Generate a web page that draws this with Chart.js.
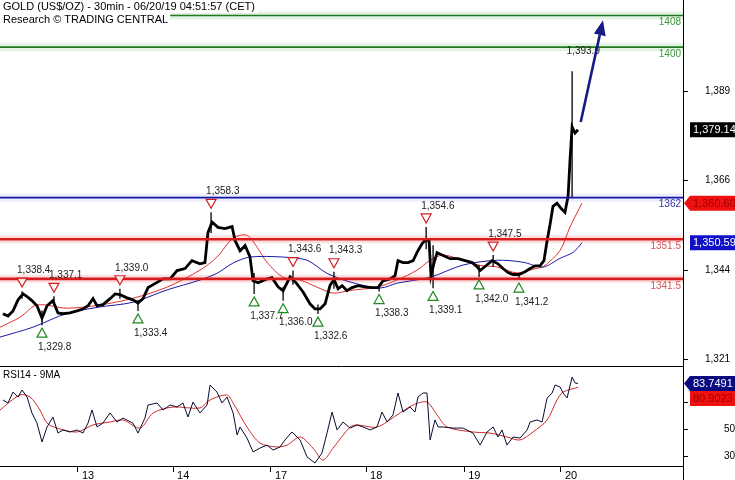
<!DOCTYPE html>
<html><head><meta charset="utf-8">
<script src="https://cdn.jsdelivr.net/npm/chart.js@4.4.1/dist/chart.umd.min.js"></script>
<style>html,body{margin:0;padding:0;background:#fff}#wrap{width:735px;height:480px;position:relative}</style>
</head><body><div id="wrap"><canvas id="c" width="735" height="480"></canvas></div>
<script>
// ---------- DATA ----------
const titleLine1 = 'GOLD (US$/OZ) - 30min - 06/20/19 04:51:57 (CET)';
const titleLine2 = 'Research \u00A9 TRADING CENTRAL';
const rsiTitle = 'RSI14 - 9MA';

const dayTicks = [37.1, 82.4, 129, 174.3, 221, 267.1];   // bar index of session start
const dayLabels = ['13', '14', '17', '18', '19', '20'];
const priceTickValues = [1321.1, 1343.7, 1366.3, 1388.9];
const priceTickLabels = ['1,321', '1,344', '1,366', '1,389'];
const rsiTickValues = [30, 50, 70];
const rsiTickLabels = ['30', '50', '70'];

const levelValues = [1408, 1400, 1362, 1351.5, 1341.5];
const levelLabels = ['1408', '1400', '1362', '1351.5', '1341.5'];
const levelKinds = ['target', 'target', 'resistance', 'pivot', 'pivot'];

const priceBars = [1.4,3.8,6.2,8.6,11,12.9,15.2,17.6,20,22.4,25.2,27.6,30,33.3,36.7,39.5,41.9,44.3,46.2,49,52.4,54.8,57.1,60.5,63.3,65.7,68.1,70.5,73.8,77.6,81,84.3,88.1,91.4,95.2,97.6,99,101,103.8,107.1,110.5,111.9,114.3,116.7,119,120.5,122.9,126.2,129.5,132.4,134.8,138.1,141,144.3,147.6,150,152.4,154.8,157.1,159,161,162.9,165.2,167.6,170.5,173.8,177.1,180,182.4,185.7,188.1,189.5,191.9,194.3,196.7,199,201,202.4,204.3,205.2,206.7,208.1,211,214.3,218.1,221.4,224.8,227.1,228.6,231.4,234.3,237.1,239.5,241.9,244.3,247.1,250,252.4,254.8,257.1,259,260.5,261.9,263.3,265.2,267.1,269,270.5,271.4,272.4,273.8,275.2];
const priceClose = [1332.7,1332.1,1333.4,1336.2,1337.7,1337.0,1336.0,1334.7,1331.6,1334.7,1336.0,1332.9,1332.7,1332.9,1333.4,1333.9,1334.7,1336.5,1334.7,1335.0,1336.5,1337.7,1337.5,1336.7,1336.2,1335.4,1336.5,1339.3,1340.3,1341.5,1341.5,1343.6,1344.1,1346.1,1345.3,1345.6,1353.2,1355.8,1354.5,1354.2,1354.7,1351.2,1348.6,1349.9,1347.1,1341.0,1340.5,1341.3,1341.8,1339.5,1338.5,1342.0,1340.5,1338.2,1335.2,1333.9,1333.9,1335.2,1339.8,1341.3,1339.0,1339.8,1338.5,1339.3,1339.8,1339.5,1339.3,1339.3,1341.0,1341.5,1342.3,1346.1,1345.6,1345.6,1346.1,1348.6,1350.4,1351.2,1351.2,1342.3,1345.6,1348.1,1347.4,1346.6,1346.6,1346.1,1345.6,1344.6,1343.6,1344.8,1346.1,1345.3,1344.1,1343.1,1342.6,1342.6,1343.3,1344.1,1344.8,1344.8,1346.1,1351.2,1355.2,1359.8,1360.6,1359.3,1358.3,1362.4,1371.5,1379.9,1378.3,1379.14];

const wickBars = [10.5,20,25.7,57.1,65.7,100.5,121,134.8,139.5,151.4,159,180.5,202.9,206.2,228.1,234.8,247.1,272.4];
const wickLow  = [1336.5,1329.8,1335.0,1336.5,1333.4,1353.0,1337.7,1336.0,1340.0,1332.6,1339.0,1338.3,1349.0,1339.1,1342.0,1344.5,1341.2,1362.0];
const wickHigh = [1338.4,1333.5,1337.1,1339.0,1336.0,1358.3,1343.0,1339.5,1343.6,1335.0,1343.3,1340.0,1354.6,1350.0,1345.0,1347.5,1343.0,1393.9];

const maRedBars = [0,9.5,17.6,31.9,47.6,63.3,79.5,95.2,103.3,111,117.6,122.4,127.1,134.8,142.9,151,158.6,166.7,179.5,189,198.6,204.8,211,220.5,228.6,236.7,246.2,255.7,258.6,266.7,271.4,277.1];
const maRedVals = [1329.3,1331.8,1334.9,1334.1,1334.9,1336.6,1339.4,1343.7,1347.0,1351.8,1352.5,1349.5,1345.7,1341.9,1341.2,1339.4,1337.9,1338.6,1339.4,1341.2,1343.7,1346.2,1347.5,1346.2,1344.9,1344.5,1343.0,1344.2,1344.5,1348.7,1354.6,1360.6];
const maBlueBars = [0,15.7,31.9,47.6,63.3,79.5,95.2,103.3,111,119,134.8,146.2,155.7,166.7,181,189,204.8,220.5,236.7,249,258.6,266.7,272.9,277.1];
const maBlueVals = [1326.8,1329.3,1332.8,1334.4,1335.6,1338.7,1341.2,1342.9,1345.5,1347.0,1347.0,1346.2,1342.9,1340.7,1339.2,1340.4,1341.9,1345.0,1346.2,1345.7,1344.5,1346.7,1348.2,1350.6];

const highBars = [10.5,25.7,57.1,100.5,139.5,159,202.9,234.8];
const highVals = [1338.4,1337.1,1339.0,1358.3,1343.6,1343.3,1354.6,1347.5];
const lowBars = [20,65.7,121,134.8,151.4,180.5,206.2,228.1,247.1];
const lowVals = [1329.8,1333.4,1337.7,1336.0,1332.6,1338.3,1339.1,1342.0,1341.2];
const peakBars = [271.2];
const peakVals = [1393.9];

const rsiBars = [1.4,3.8,6.2,8.6,10.5,12.9,15.2,17.6,20,22.4,25.2,27.6,30,33.3,36.7,39.5,41.9,43.8,46.2,49,52.4,55.7,58.6,63.3,65.7,69,70.5,74.8,77.6,81,84.3,87.1,89.5,91.9,95.2,98.6,100,103.3,105.7,108.1,111,112.9,114.3,117.6,120.5,123.8,127.1,130,133.3,135.7,139,142.9,146.2,150,153.3,155.7,158.1,160.5,163.3,166.7,170,172.9,176.2,179.5,181.9,184.3,187.1,189.5,191.9,195.2,197.6,199,201.4,203.3,204.8,207.1,208.6,211,215.7,220.5,225.2,228.6,231.9,234.8,237.1,239,241.4,244.3,247.6,251,252.4,255.7,258.1,260.5,262.9,264.3,266.7,268.1,270,272.4,273.8,275.2];
const rsiVals = [71.5,69.3,77.4,73.7,78.9,73.7,61.9,54.4,40.4,51.5,58.9,47.0,49.3,47.8,49.3,47.0,54.4,64.1,51.5,54.4,61.9,55.2,58.1,54.4,47.0,58.1,67.8,69.3,64.1,67.8,66.3,69.3,58.9,70.0,61.9,67.8,82.6,77.4,69.3,73.7,61.9,45.6,51.5,43.3,33.0,35.9,38.1,34.4,36.7,41.9,47.8,41.9,29.3,24.8,32.2,47.0,62.6,49.3,55.2,50.7,53.0,51.5,49.3,51.5,62.6,55.2,60.4,76.7,62.6,66.3,62.6,73.7,76.7,76.7,41.9,56.7,51.5,51.5,50.7,50.7,47.0,38.1,47.8,51.5,44.1,49.3,38.1,44.1,43.3,49.3,55.2,56.7,55.2,73.0,76.7,82.6,81.1,76.7,73.0,88.5,84.1,83.7491];
const rsiMaBars = [0,9.5,14.3,19,22.4,27.1,36.7,44.3,52.4,58.6,66.7,72.9,82.4,95.2,100,108.1,111,117.6,123.8,131.9,136.7,142.9,149,153.8,158.6,166.7,170,179.5,189,196.7,203.3,208.1,212.9,225.2,233.3,241.4,247.6,253.8,260.5,265.2,268.1,275.2];
const rsiMaVals = [64.1,75.2,73.7,64.1,54.4,50.7,47.8,53.0,55.2,56.7,50.7,61.9,66.3,65.6,71.5,75.2,69.3,51.5,39.6,36.7,38.1,44.1,35.9,27.0,35.9,51.5,53.0,51.5,60.4,67.8,70.0,60.4,51.5,47.8,47.0,44.1,41.9,47.8,56.7,71.5,77.4,80.9];

const lastPrice = 1379.14, lastMaRed = 1360.60, lastMaBlue = 1350.59;
const lastRsi = 83.7491, lastRsiMa = 80.9023;
const arrowBars = [276.5, 287.1];
const arrowPrices = [1381.1, 1406.8];

// ---------- STYLE ----------
const FONT = '"Liberation Sans", Arial, sans-serif';
const levelStyle = {
  target: {line: '#217a21', halo: 'rgba(40,160,40,0.13)', text: '#3f9a3f', w: 1.6},
  resistance: {line: '#1414a8', halo: 'rgba(30,30,200,0.08)', text: '#3535a8', w: 1.8},
  pivot: {line: '#d81c1c', halo: 'rgba(255,60,60,0.16)', text: '#d05a5a', w: 2.6}
};
const X_MAX = 325.2;
const xy = (xs, ys) => xs.map((v, i) => ({x: v, y: ys[i]}));
const fmt = v => { const s = v.toFixed(1).split('.'); return s[0].replace(/\B(?=(\d{3})+(?!\d))/g, ',') + '.' + s[1]; };
const fmt2 = v => { const s = v.toFixed(2).split('.'); return s[0].replace(/\B(?=(\d{3})+(?!\d))/g, ',') + '.' + s[1]; };

const datasets = [];
levelValues.forEach((v, i) => {
  const st = levelStyle[levelKinds[i]];
  datasets.push({type: 'line', data: [{x: 0, y: v}, {x: X_MAX, y: v}], borderColor: st.halo, borderWidth: 8, pointRadius: 0, yAxisID: 'y', order: 20});
  datasets.push({type: 'line', data: [{x: 0, y: v}, {x: X_MAX, y: v}], borderColor: st.line, borderWidth: st.w, pointRadius: 0, yAxisID: 'y', order: 1});
});
const wickData = [];
wickBars.forEach((b, i) => { wickData.push({x: b, y: wickLow[i]}, {x: b, y: wickHigh[i]}, {x: b, y: null}); });
datasets.push({type: 'line', data: wickData, borderColor: '#000', borderWidth: 1.3, pointRadius: 0, spanGaps: false, yAxisID: 'y', order: 5});
datasets.push({type: 'line', data: xy(maBlueBars, maBlueVals), borderColor: '#1a1aa8', borderWidth: 1, pointRadius: 0, tension: 0.3, yAxisID: 'y', order: 6});
datasets.push({type: 'line', data: xy(maRedBars, maRedVals), borderColor: '#e03030', borderWidth: 1, pointRadius: 0, tension: 0.3, yAxisID: 'y', order: 6});
datasets.push({type: 'line', data: xy(priceBars, priceClose), borderColor: '#000', borderWidth: 2.8, pointRadius: 0, tension: 0, yAxisID: 'y', order: 4});
datasets.push({type: 'line', data: xy(rsiMaBars, rsiMaVals), borderColor: '#d02a2a', borderWidth: 1, pointRadius: 0, tension: 0.3, yAxisID: 'rsi', order: 6});
datasets.push({type: 'line', data: xy(rsiBars, rsiVals), borderColor: '#0a0a30', borderWidth: 1, pointRadius: 0, tension: 0, yAxisID: 'rsi', order: 5});

function tri(ctx, px, py, down, color) {
  ctx.beginPath();
  if (down) { ctx.moveTo(px - 5, py - 4); ctx.lineTo(px + 5, py - 4); ctx.lineTo(px, py + 5); }
  else { ctx.moveTo(px - 5, py + 4); ctx.lineTo(px + 5, py + 4); ctx.lineTo(px, py - 5); }
  ctx.closePath();
  ctx.fillStyle = 'rgba(255,255,255,0.85)'; ctx.fill();
  ctx.strokeStyle = color; ctx.lineWidth = 1.2; ctx.stroke();
}
function valueBox(ctx, cy, text, bg, fg, arrow) {
  const h = 15, x0 = 690;
  ctx.beginPath();
  if (arrow) { ctx.moveTo(684, cy); ctx.lineTo(x0, cy - h / 2); } else { ctx.moveTo(x0, cy - h / 2); }
  ctx.lineTo(735, cy - h / 2); ctx.lineTo(735, cy + h / 2); ctx.lineTo(x0, cy + h / 2);
  ctx.closePath(); ctx.fillStyle = bg; ctx.fill();
  ctx.fillStyle = fg; ctx.font = '11px ' + FONT; ctx.textAlign = 'left'; ctx.textBaseline = 'middle';
  ctx.fillText(text, x0 + 3, cy + 0.5);
}

const overlay = {
  id: 'overlay',
  afterDatasetsDraw(chart) {
    const {ctx, chartArea} = chart; const x = chart.scales.x, y = chart.scales.y, r = chart.scales.rsi;
    ctx.save();
    // level labels
    ctx.font = '10px ' + FONT; ctx.textAlign = 'right'; ctx.textBaseline = 'middle';
    levelValues.forEach((v, i) => { ctx.fillStyle = levelStyle[levelKinds[i]].text; ctx.fillText(levelLabels[i], chartArea.right - 2, y.getPixelForValue(v) + 7); });
    // swing highs / lows
    ctx.textAlign = 'left';
    highBars.forEach((b, i) => {
      const px = x.getPixelForValue(b), ty = y.getPixelForValue(highVals[i]) - 9;
      tri(ctx, px, ty, true, '#d02020');
      ctx.fillStyle = '#222'; ctx.fillText(fmt(highVals[i]), px - 5, ty - 12);
    });
    lowBars.forEach((b, i) => {
      const px = x.getPixelForValue(b), ty = y.getPixelForValue(lowVals[i]) + 8;
      tri(ctx, px, ty, false, '#1f8a1f');
      ctx.fillStyle = '#222'; ctx.fillText(fmt(lowVals[i]), px - 4, ty + 14);
    });
    peakBars.forEach((b, i) => {
      const px = x.getPixelForValue(b);
      ctx.fillStyle = '#222'; ctx.fillText(fmt(peakVals[i]), px - 3, y.getPixelForValue(peakVals[i]) - 20);
    });
    // arrow
    const ax0 = x.getPixelForValue(arrowBars[0]), ay0 = y.getPixelForValue(arrowPrices[0]);
    const ax1 = x.getPixelForValue(arrowBars[1]), ay1 = y.getPixelForValue(arrowPrices[1]);
    const ang = Math.atan2(ay1 - ay0, ax1 - ax0), hl = 15, hw = 6;
    const bx = ax1 - hl * Math.cos(ang), by = ay1 - hl * Math.sin(ang);
    ctx.strokeStyle = '#1a1a86'; ctx.lineWidth = 2.6; ctx.beginPath(); ctx.moveTo(ax0, ay0); ctx.lineTo(bx, by); ctx.stroke();
    ctx.fillStyle = '#1a1a86'; ctx.beginPath(); ctx.moveTo(ax1, ay1);
    ctx.lineTo(bx + hw * Math.sin(ang), by - hw * Math.cos(ang)); ctx.lineTo(bx - hw * Math.sin(ang), by + hw * Math.cos(ang)); ctx.closePath(); ctx.fill();
    // header
    ctx.font = '11px ' + FONT; ctx.textBaseline = 'middle';
    const w1 = ctx.measureText(titleLine1).width, w2 = ctx.measureText(titleLine2).width;
    ctx.fillStyle = '#fff'; ctx.fillRect(0, 0, w1 + 6, 13); ctx.fillRect(0, 13, w2 + 5, 13);
    ctx.fillStyle = '#000'; ctx.fillText(titleLine1, 3, 7); ctx.fillText(titleLine2, 3, 19.5);
    // rsi title
    ctx.font = '10px ' + FONT; ctx.fillText(rsiTitle, 3, r.top + 9);
    // panel separator
    ctx.strokeStyle = '#000'; ctx.lineWidth = 1; ctx.beginPath();
    ctx.moveTo(chartArea.left, Math.round(y.bottom) + 0.5); ctx.lineTo(chartArea.right, Math.round(y.bottom) + 0.5); ctx.stroke();
    ctx.restore();
  },
  afterDraw(chart) {
    const {ctx, chartArea} = chart; const y = chart.scales.y, r = chart.scales.rsi;
    ctx.save();
    ctx.strokeStyle = '#000'; ctx.lineWidth = 1; ctx.beginPath();
    ctx.moveTo(Math.round(chartArea.right) + 0.5, 0); ctx.lineTo(Math.round(chartArea.right) + 0.5, 480); ctx.stroke();
    valueBox(ctx, y.getPixelForValue(lastPrice), fmt2(lastPrice), '#000', '#fff', false);
    valueBox(ctx, y.getPixelForValue(lastMaRed), fmt2(lastMaRed), '#f01010', '#a00000', true);
    valueBox(ctx, y.getPixelForValue(lastMaBlue), fmt2(lastMaBlue), '#1010c8', '#fff', false);
    const cyR = r.getPixelForValue(lastRsi);
    let cyM = r.getPixelForValue(lastRsiMa); if (cyM < cyR + 15) cyM = cyR + 15;
    valueBox(ctx, cyM, lastRsiMa.toFixed(4), '#f01010', '#a00000', false);
    valueBox(ctx, cyR, lastRsi.toFixed(4), '#0a0a80', '#fff', true);
    ctx.restore();
  }
};

const zeroPad = s => { s.paddingTop = 0; s.paddingBottom = 0; s.paddingLeft = 0; s.paddingRight = 0; };
new Chart(document.getElementById('c'), {
  data: {datasets},
  options: {
    responsive: false, animation: false, devicePixelRatio: 1,
    layout: {padding: 0},
    plugins: {legend: {display: false}, tooltip: {enabled: false}},
    scales: {
      x: {
        type: 'linear', axis: 'x', position: 'bottom', min: 0, max: X_MAX,
        afterBuildTicks: s => { s.ticks = dayTicks.map(v => ({value: v})); },
        afterFit: s => { s.height = 14; zeroPad(s); },
        ticks: {autoSkip: false, maxRotation: 0, align: 'start', labelOffset: 4, padding: -3, color: '#000', font: {size: 11, family: FONT},
          callback: (v, i) => dayLabels[i]},
        grid: {drawOnChartArea: false, drawTicks: true, tickLength: 6, color: '#000', tickColor: '#000'},
        border: {display: true, color: '#000', width: 1}
      },
      y: {
        type: 'linear', axis: 'y', position: 'right', stack: 'v', stackWeight: 366, min: 1319.5, max: 1411.9,
        afterBuildTicks: s => { s.ticks = priceTickValues.map(v => ({value: v})); },
        afterFit: s => { s.width = 52; zeroPad(s); },
        ticks: {padding: 17, color: '#000', font: {size: 10, family: FONT}, callback: (v, i) => priceTickLabels[i]},
        grid: {drawOnChartArea: false, drawTicks: true, tickLength: 5, tickColor: '#000'},
        border: {display: true, color: '#000', width: 1}
      },
      rsi: {
        type: 'linear', axis: 'y', position: 'right', stack: 'v', stackWeight: 100, min: 22.6, max: 96.7,
        afterBuildTicks: s => { s.ticks = rsiTickValues.map(v => ({value: v})); },
        afterFit: s => { s.width = 52; zeroPad(s); },
        ticks: {padding: 32, crossAlign: 'far', color: '#000', font: {size: 10, family: FONT}, callback: (v, i) => rsiTickLabels[i]},
        grid: {drawOnChartArea: false, drawTicks: true, tickLength: 5, tickColor: '#000'},
        border: {display: true, color: '#000', width: 1}
      }
    }
  },
  plugins: [overlay]
});
</script></body></html>
